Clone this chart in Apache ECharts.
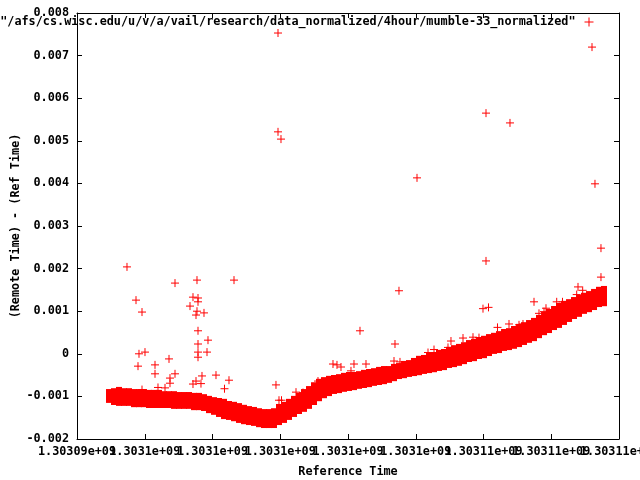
<!DOCTYPE html>
<html><head><meta charset="utf-8">
<script src="https://cdn.jsdelivr.net/npm/echarts@6/dist/echarts.min.js"></script>
<style>html,body{margin:0;padding:0;background:#fff}#c{width:640px;height:480px}</style>
</head><body><div id="c"></div>
<script>
const legendName = '"/afs/cs.wisc.edu/u/v/a/vail/research/data_normalized/4hour/mumble-33_normalized"';
const xTitle = 'Reference Time';
const yTitle = '(Remote Time) - (Ref Time)';
const X_MIN = 1303094000, X_MAX = 1303110000, X_STEP = 2000;
const Y_MIN = -0.002, Y_MAX = 0.008, Y_STEP = 0.001;
const xTickLabels = ['1.30309e+09','1.3031e+09','1.3031e+09','1.3031e+09','1.3031e+09','1.3031e+09','1.30311e+09','1.30311e+09','1.30311e+09'];
const yTickLabels = ['-0.002','-0.001','0','0.001','0.002','0.003','0.004','0.005','0.006','0.007','0.008'];

// dense main band: sampled time, upper and lower extent of the band
const bandTime = [1303094945,1303095092,1303095240,1303095388,1303095535,1303095683,1303095830,1303095978,1303096126,1303096273,
1303096421,1303096569,1303096716,1303096864,1303097011,1303097159,1303097307,1303097454,1303097602,1303097749,
1303097897,1303098045,1303098192,1303098340,1303098487,1303098635,1303098783,1303098930,1303099078,1303099225,
1303099373,1303099521,1303099668,1303099816,1303099963,1303100111,1303100259,1303100406,1303100554,1303100701,
1303100849,1303100997,1303101144,1303101292,1303101439,1303101587,1303101735,1303101882,1303102030,1303102178,
1303102325,1303102473,1303102620,1303102768,1303102916,1303103063,1303103211,1303103358,1303103506,1303103654,
1303103801,1303103949,1303104096,1303104244,1303104392,1303104539,1303104687,1303104834,1303104982,1303105130,
1303105277,1303105425,1303105572,1303105720,1303105868,1303106015,1303106163,1303106311,1303106458,1303106606,
1303106753,1303106901,1303107049,1303107196,1303107344,1303107491,1303107639,1303107787,1303107934,1303108082,
1303108229,1303108377,1303108525,1303108672,1303108820,1303108967,1303109115,1303109263,1303109410,1303109558];
const bandUpper = [-0.00100,-0.00096,-0.00093,-0.00096,-0.00096,-0.00098,-0.00098,-0.00098,-0.00100,-0.00100,
-0.00100,-0.00103,-0.00103,-0.00103,-0.00105,-0.00105,-0.00105,-0.00107,-0.00107,-0.00110,
-0.00114,-0.00117,-0.00119,-0.00121,-0.00126,-0.00128,-0.00131,-0.00135,-0.00138,-0.00140,
-0.00143,-0.00145,-0.00145,-0.00143,-0.00133,-0.00128,-0.00121,-0.00114,-0.00107,-0.00098,
-0.00091,-0.00082,-0.00074,-0.00070,-0.00067,-0.00065,-0.00063,-0.00060,-0.00058,-0.00058,
-0.00056,-0.00053,-0.00051,-0.00049,-0.00046,-0.00044,-0.00044,-0.00039,-0.00037,-0.00032,
-0.00030,-0.00025,-0.00020,-0.00018,-0.00013,-0.00011,-0.00006,-0.00004,0.00001,0.00005,
0.00008,0.00012,0.00017,0.00020,0.00024,0.00027,0.00031,0.00034,0.00038,0.00043,
0.00045,0.00050,0.00055,0.00059,0.00064,0.00069,0.00076,0.00083,0.00090,0.00097,
0.00104,0.00109,0.00113,0.00118,0.00123,0.00128,0.00132,0.00137,0.00142,0.00144];
const bandLower = [-0.00098,-0.00105,-0.00107,-0.00107,-0.00107,-0.00110,-0.00110,-0.00110,-0.00112,-0.00112,
-0.00112,-0.00112,-0.00112,-0.00114,-0.00114,-0.00114,-0.00114,-0.00117,-0.00117,-0.00119,
-0.00124,-0.00128,-0.00133,-0.00138,-0.00140,-0.00143,-0.00147,-0.00150,-0.00152,-0.00154,
-0.00157,-0.00159,-0.00159,-0.00159,-0.00152,-0.00147,-0.00140,-0.00133,-0.00126,-0.00121,
-0.00114,-0.00105,-0.00096,-0.00089,-0.00084,-0.00079,-0.00077,-0.00074,-0.00072,-0.00070,
-0.00067,-0.00065,-0.00063,-0.00060,-0.00058,-0.00056,-0.00053,-0.00049,-0.00044,-0.00042,
-0.00039,-0.00037,-0.00035,-0.00032,-0.00030,-0.00028,-0.00025,-0.00023,-0.00018,-0.00016,
-0.00013,-0.00009,-0.00004,-0.00002,0.00003,0.00005,0.00010,0.00015,0.00017,0.00022,
0.00024,0.00027,0.00031,0.00036,0.00041,0.00045,0.00052,0.00059,0.00064,0.00071,
0.00076,0.00083,0.00090,0.00097,0.00102,0.00109,0.00113,0.00118,0.00125,0.00127];

// scattered points outside the band
const outlierTime = [1303099934,1303109203,1303099934,1303100022,1303106074,1303106782,1303104037,1303109291,1303109468,1303095476,
1303106074,1303109468,1303096893,1303097542,1303098635,1303095742,1303097424,1303097572,1303097572,1303097336,
1303097542,1303097749,1303097513,1303095919,1303097572,1303097867,1303097572,1303097572,1303097838,1303097572,
1303095830,1303096007,1303096716,1303095801,1303096303,1303096303,1303096893,1303096745,1303096745,1303098103,
1303097690,1303097513,1303097424,1303097660,1303098487,1303095919,1303096391,1303096598,1303098354,1303099874,
1303099963,1303100037,1303100465,1303100672,1303100494,1303101114,1303101557,1303101675,1303101793,1303102088,
1303102177,1303102531,1303102354,1303103387,1303103358,1303103535,1303103505,1303104362,1303104539,1303104952,
1303105040,1303105395,1303105690,1303105867,1303105985,1303106148,1303106413,1303106753,1303107048,1303107166,
1303107491,1303108161,1303108332,1303107845,1303107638,1303107786,1303108790,1303108928,1303108751];
const outlierValue = [0.00753,0.00720,0.00521,0.00504,0.00565,0.00542,0.00413,0.00399,0.00248,0.00204,
0.00218,0.00180,0.00166,0.00173,0.00173,0.00126,0.00133,0.00131,0.00122,0.00112,
0.00100,0.00096,0.00091,0.00098,0.00054,0.00032,0.00023,0.00004,0.00004,-0.00008,
0.00000,0.00004,-0.00012,-0.00029,-0.00026,-0.00047,-0.00047,-0.00057,-0.00069,-0.00050,
-0.00052,-0.00064,-0.00071,-0.00070,-0.00062,-0.00084,-0.00079,-0.00080,-0.00082,-0.00073,
-0.00109,-0.00109,-0.00090,-0.00091,-0.00101,-0.00064,-0.00024,-0.00026,-0.00031,-0.00040,
-0.00024,-0.00024,0.00054,0.00023,-0.00017,-0.00019,0.00148,0.00003,0.00010,0.00015,
0.00030,0.00037,0.00039,0.00038,0.00106,0.00109,0.00062,0.00070,0.00068,0.00070,
0.00122,0.00122,0.00122,0.00107,0.00095,0.00099,0.00157,0.00149,0.00139];

const RED = '#ff0000';
const plusPath = 'path://M0,4L8,4M4,0L4,8';
const font = {fontFamily: 'DejaVu Sans Mono', fontWeight: 'bold', fontSize: 11.8, color: '#000'};

const bandData = bandTime.map((t, i) => [t, bandUpper[i]]).concat(bandTime.map((t, i) => [t, bandLower[i]]));
const outlierData = outlierTime.map((t, i) => [t, outlierValue[i]]);

const axisLine = {show: true, onZero: false, lineStyle: {color: '#000', width: 1}};
const axisTick = {show: true, inside: true, length: 5, lineStyle: {color: '#000', width: 1}};
const xIndex = v => Math.round((v - X_MIN) / X_STEP);

const chart = echarts.init(document.getElementById('c'), null, {renderer: 'canvas'});
chart.setOption({
  animation: false,
  backgroundColor: '#fff',
  grid: {left: 77, right: 21, top: 13, bottom: 41, containLabel: false, outerBoundsMode: 'none', show: false},
  legend: {
    show: true, right: 46, top: 16, padding: 0, align: 'right', selectedMode: false,
    itemWidth: 9, itemHeight: 9,
    data: [{name: legendName, icon: plusPath}],
    itemStyle: {color: RED, borderColor: RED, borderWidth: 1, opacity: 1},
    textStyle: Object.assign({}, font, {padding: [0, 4, 0, 0]})
  },
  xAxis: [
    // bottom axis: frame line, ticks, title and the even tick labels
    {type: 'value', position: 'bottom', min: X_MIN, max: X_MAX, interval: X_STEP,
     name: xTitle, nameLocation: 'middle', nameGap: 27, nameMoveOverlap: false, nameTextStyle: font,
     axisLine, axisTick, splitLine: {show: false},
     axisLabel: Object.assign({}, font, {margin: 7, hideOverlap: false,
       formatter: v => (xIndex(v) % 2 === 0 ? xTickLabels[xIndex(v)] : '')})},
    // same bottom axis carrying the odd tick labels (overlapping like the original)
    {type: 'value', position: 'bottom', offset: 0, min: X_MIN, max: X_MAX, interval: X_STEP,
     axisLine: {show: false}, axisTick: {show: false}, splitLine: {show: false},
     axisLabel: Object.assign({}, font, {margin: 7, hideOverlap: false,
       formatter: v => (xIndex(v) % 2 === 1 ? xTickLabels[xIndex(v)] : '')})},
    // top frame with mirrored ticks
    {type: 'value', position: 'top', min: X_MIN, max: X_MAX, interval: X_STEP,
     axisLine, axisTick, splitLine: {show: false}, axisLabel: {show: false}}
  ],
  yAxis: [
    {type: 'value', position: 'left', min: Y_MIN, max: Y_MAX, interval: Y_STEP,
     name: yTitle, nameLocation: 'middle', nameGap: 55, nameMoveOverlap: false, nameTextStyle: font,
     axisLine, axisTick, splitLine: {show: false},
     axisLabel: Object.assign({}, font, {margin: 8, hideOverlap: false, showMinLabel: true, showMaxLabel: true,
       formatter: v => yTickLabels[Math.round((v - Y_MIN) / Y_STEP)] || ''})},
    {type: 'value', position: 'right', min: Y_MIN, max: Y_MAX, interval: Y_STEP,
     axisLine, axisTick, splitLine: {show: false}, axisLabel: {show: false}}
  ],
  series: [
    {type: 'scatter', name: legendName, xAxisIndex: 0, yAxisIndex: 0, data: bandData,
     symbol: 'rect', symbolSize: [6, 13], itemStyle: {color: RED, opacity: 1}, silent: true},
    {type: 'scatter', name: legendName, xAxisIndex: 0, yAxisIndex: 0, data: outlierData,
     symbol: plusPath, symbolSize: 8, itemStyle: {color: RED, borderColor: RED, borderWidth: 1, opacity: 1}, silent: true}
  ]
});
</script></body></html>
